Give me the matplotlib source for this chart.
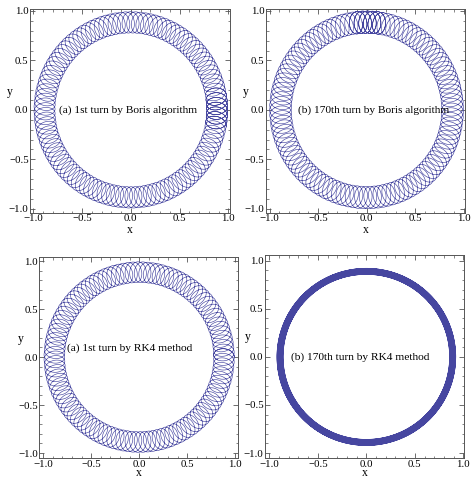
import numpy as np
import matplotlib
matplotlib.use("Agg")
import matplotlib.pyplot as plt
from matplotlib.ticker import MultipleLocator

plt.rcParams["font.family"] = ["Liberation Serif", "DejaVu Serif"]

# Orbit parameters for each panel: guiding-centre radius, radial and
# tangential half-widths of the gyration, gyrations per turn, and the start
# angle and angular span of the drawn turn (degrees)
titles = ["(a) 1st turn by Boris algorithm",
          "(b) 170th turn by Boris algorithm",
          "(a) 1st turn by RK4 method",
          "(b) 170th turn by RK4 method"]
guide_radius = [0.885, 0.887, 0.885, 0.89]
gyro_radial = [0.108, 0.113, 0.108, 0.031]
gyro_tangential = [0.075, 0.078, 0.075, 0.031]
gyrations = [115, 115, 115, 480]
start_deg = [-10, 80, 0, 0]
span_deg = [380, 378, 362, 362]

title_xy = [(-0.03, 0.0), (0.07, 0.0), (-0.095, 0.09), (-0.06, 0.0)]

# axes rectangles in pixels (left, top, right, bottom) and view limits
W, H = 471, 478
boxes = [(30, 9.3, 230, 212.7), (265.7, 9.3, 465, 212.7),
         (39.3, 257.3, 237.7, 458.3), (265, 255, 464.3, 458.3)]
xlims = [(-1.034, 1.017), (-1.04, 1.015), (-1.042, 1.028), (-1.045, 1.01)]
ylims = [(-1.04, 1.017), (-1.04, 1.017), (-1.055, 1.04), (-1.055, 1.06)]
xlabel_gap = [20, 20, 18, 18]
ylabel_gap = [20, 20, 19, 17]

ticks = [-1.0, -0.5, 0.0, 0.5, 1.0]
tick_labels = ["\u22121.0", "\u22120.5", "0.0", "0.5", "1.0"]

line_color = "#4646a0"
frame_color = "#555555"
line_widths = [0.45, 0.45, 0.45, 0.6]

fig = plt.figure(figsize=(W / 100, H / 100), dpi=100)

for i in range(4):
    l, t, r, b = boxes[i]
    ax = fig.add_axes([l / W, 1 - b / H, (r - l) / W, (b - t) / H])

    phi = np.deg2rad(start_deg[i]) + np.linspace(0, np.deg2rad(span_deg[i]), 100000)
    psi = gyrations[i] * (phi - phi[0])
    rad = guide_radius[i] + gyro_radial[i] * np.cos(psi)
    tan = gyro_tangential[i] * np.sin(psi)
    x = rad * np.cos(phi) - tan * np.sin(phi)
    y = rad * np.sin(phi) + tan * np.cos(phi)
    ax.plot(x, y, color=line_color, lw=line_widths[i])

    ax.set_xlim(*xlims[i])
    ax.set_ylim(*ylims[i])
    ax.set_xticks(ticks)
    ax.set_xticklabels(tick_labels)
    ax.set_yticks(ticks)
    ax.set_yticklabels(tick_labels)
    ax.xaxis.set_minor_locator(MultipleLocator(0.1))
    ax.yaxis.set_minor_locator(MultipleLocator(0.1))
    ax.tick_params(which="both", direction="in", top=True, right=True,
                   color=frame_color, labelsize=7.8, pad=1.0)
    ax.tick_params(which="major", length=3.5, width=0.6)
    ax.tick_params(which="minor", length=1.8, width=0.5)
    for s in ax.spines.values():
        s.set_color(frame_color)
        s.set_linewidth(0.7)

    w_px, h_px = r - l, b - t
    ax.text(0.5, -xlabel_gap[i] / h_px, "x", transform=ax.transAxes,
            ha="center", va="baseline", fontsize=8.5)
    ax.text(-ylabel_gap[i] / w_px, 0.595, "y", transform=ax.transAxes,
            ha="center", va="center", fontsize=8.5)

    tx, ty = title_xy[i]
    ax.text(tx, ty, titles[i], ha="center", va="center", fontsize=8.2)

fig.savefig("out.png", dpi=100)
